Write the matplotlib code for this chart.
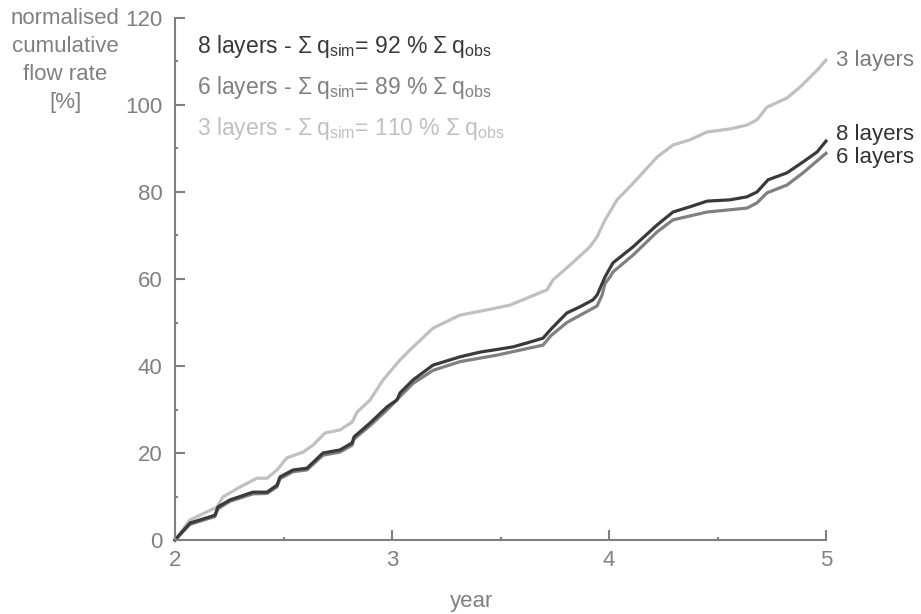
import numpy as np
import matplotlib
matplotlib.use("Agg")
import matplotlib.pyplot as plt
from matplotlib.ticker import MultipleLocator

plt.rcParams['font.family'] = ['Liberation Sans', 'DejaVu Sans']
plt.rcParams['mathtext.fontset'] = 'custom'
plt.rcParams['mathtext.rm'] = 'Liberation Sans'

# cumulative flow, normalised by observed total [%]
year_8 = [2.000, 2.069, 2.184, 2.198, 2.253, 2.359, 2.424, 2.470, 2.484, 2.544,
          2.608, 2.682, 2.760, 2.816, 2.825, 2.899, 2.977, 3.023, 3.037, 3.097,
          3.189, 3.313, 3.406, 3.484, 3.558, 3.622, 3.696, 3.737, 3.806, 3.866,
          3.926, 3.945, 3.982, 4.018, 4.111, 4.221, 4.295, 4.373, 4.452, 4.558,
          4.636, 4.682, 4.733, 4.820, 4.894, 4.959, 5.000]
flow_8 = [0.0, 3.9, 5.7, 7.6, 9.2, 11.0, 11.0, 12.6, 14.5, 16.1,
          16.5, 20.0, 20.7, 22.3, 23.7, 26.9, 30.6, 32.2, 33.8, 36.8,
          40.2, 42.1, 43.2, 43.8, 44.4, 45.3, 46.4, 48.7, 52.2, 53.6,
          55.2, 56.3, 60.5, 63.7, 67.4, 72.4, 75.4, 76.6, 77.9, 78.2,
          78.9, 80.0, 82.8, 84.4, 86.9, 89.2, 91.7]

year_6 = [2.000, 2.069, 2.184, 2.198, 2.253, 2.359, 2.424, 2.470, 2.484, 2.544,
          2.608, 2.682, 2.760, 2.816, 2.825, 2.899, 2.977, 3.037, 3.097, 3.189,
          3.313, 3.484, 3.622, 3.696, 3.733, 3.806, 3.912, 3.945, 3.968, 3.982,
          4.005, 4.018, 4.111, 4.221, 4.295, 4.452, 4.636, 4.682, 4.728, 4.820,
          4.894, 5.000]
flow_6 = [0.0, 3.6, 5.4, 7.2, 8.9, 10.6, 10.7, 12.2, 14.1, 15.7,
          16.1, 19.5, 20.2, 21.8, 23.2, 26.3, 29.9, 33.0, 36.0, 39.0,
          41.0, 42.5, 44.0, 44.8, 47.0, 50.0, 52.9, 53.8, 56.3, 59.0,
          60.5, 61.6, 65.5, 70.8, 73.6, 75.4, 76.3, 77.5, 79.8, 81.6,
          84.4, 88.9]

year_3 = [2.000, 2.069, 2.194, 2.221, 2.300, 2.378, 2.424, 2.470, 2.516, 2.590,
          2.636, 2.691, 2.760, 2.816, 2.839, 2.899, 2.959, 3.037, 3.083, 3.189,
          3.313, 3.438, 3.544, 3.636, 3.714, 3.742, 3.820, 3.912, 3.945, 3.982,
          4.037, 4.111, 4.221, 4.295, 4.373, 4.452, 4.558, 4.636, 4.682, 4.728,
          4.820, 4.880, 4.959, 5.000]
flow_3 = [0.0, 4.6, 7.6, 9.9, 12.2, 14.2, 14.2, 16.1, 18.9, 20.2,
          21.8, 24.6, 25.3, 27.1, 29.4, 32.2, 36.8, 41.4, 43.7, 48.7,
          51.7, 52.9, 54.0, 55.9, 57.5, 59.8, 63.2, 67.4, 69.7, 73.6,
          78.2, 82.0, 88.0, 90.8, 92.0, 93.8, 94.5, 95.4, 96.6, 99.5,
          101.6, 104.1, 108.0, 110.3]

ratio_8, ratio_6, ratio_3 = 92, 89, 110

dark, mid, light = '#3a3a3a', '#808080', '#c0c0c0'
axis_grey = '#808080'

fig = plt.figure(figsize=(9.21, 6.14), dpi=100)
ax = fig.add_axes([175 / 921, 1 - 540 / 614, 651 / 921, 522 / 614])

ax.plot(year_3, flow_3, color=light, lw=2.3, clip_on=False)
ax.plot(year_6, flow_6, color=mid, lw=2.3, clip_on=False)
ax.plot(year_8, flow_8, color=dark, lw=2.3, clip_on=False)

ax.set_xlim(2, 5)
ax.set_ylim(0, 120)
ax.xaxis.set_major_locator(MultipleLocator(1))
ax.xaxis.set_minor_locator(MultipleLocator(0.5))
ax.yaxis.set_major_locator(MultipleLocator(20))
ax.yaxis.set_minor_locator(MultipleLocator(10))

for side in ['top', 'right']:
    ax.spines[side].set_visible(False)
for side in ['left', 'bottom']:
    ax.spines[side].set_color(axis_grey)
    ax.spines[side].set_linewidth(1.5)

ax.tick_params(which='major', direction='in', length=7.5, width=1.5,
               color=axis_grey, labelcolor=axis_grey, labelsize=16)
ax.tick_params(which='minor', direction='in', length=2, width=1.5,
               color=axis_grey)
ax.tick_params(axis='x', pad=7)
ax.tick_params(axis='y', pad=9)

fig.text(65 / 921, 1 - 8 / 614, 'normalised\ncumulative\nflow rate\n[%]',
         ha='center', va='top', fontsize=16, color=axis_grey, linespacing=1.43)
fig.text(472 / 921, 1 - 602 / 614, 'year', ha='center', va='center',
         fontsize=16, color=axis_grey)

# summary of simulated vs observed totals
summary = [(8, ratio_8, dark), (6, ratio_6, mid), (3, ratio_3, light)]
for i, (n, r, c) in enumerate(summary):
    fig.text(197 / 921, 1 - (47 + 40.5 * i) / 614,
             f'{n} layers - Σ\u2009q$_{{\\rm sim}}$= {r} % Σ\u2009q$_{{\\rm obs}}$',
             ha='left', va='center', fontsize=16.5, color=c)

# end-of-line labels
ax.annotate('3 layers', xy=(5, flow_3[-1]), xytext=(7, 0),
            textcoords='offset points', ha='left', va='center',
            fontsize=16, color='#7a7a7a', annotation_clip=False)
ax.annotate('8 layers', xy=(5, flow_8[-1]), xytext=(7, 5),
            textcoords='offset points', ha='left', va='center',
            fontsize=16, color='#333333', annotation_clip=False)
ax.annotate('6 layers', xy=(5, flow_6[-1]), xytext=(7, -3),
            textcoords='offset points', ha='left', va='center',
            fontsize=16, color='#333333', annotation_clip=False)

fig.savefig('out.png', dpi=100)
